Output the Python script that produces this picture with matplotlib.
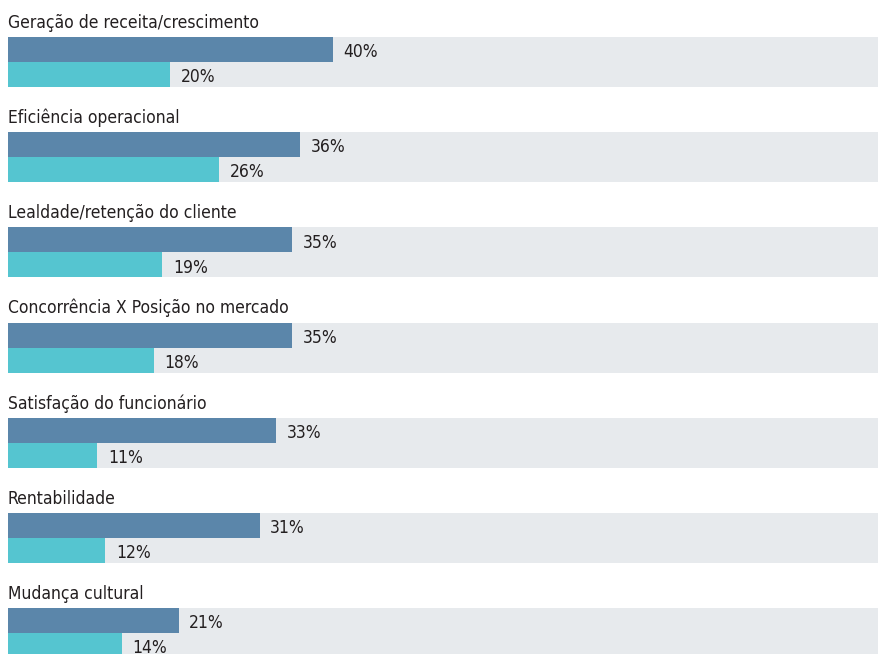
import matplotlib
matplotlib.use("Agg")
import matplotlib.pyplot as plt

categories = [
    "Geração de receita/crescimento",
    "Eficiência operacional",
    "Lealdade/retenção do cliente",
    "Concorrência X Posição no mercado",
    "Satisfação do funcionário",
    "Rentabilidade",
    "Mudança cultural",
]
serie_a = [40, 36, 35, 35, 33, 31, 21]
serie_b = [20, 26, 19, 18, 11, 12, 14]

color_a = "#5b86aa"
color_b = "#55c5d0"
color_bg = "#e7eaed"
color_txt = "#231f20"

plt.rcParams["font.family"] = ["DejaVu Sans"]
plt.rcParams["font.stretch"] = "condensed"

fig = plt.figure(figsize=(8.79, 6.54), dpi=100)
ax = fig.add_axes([8 / 879, 0, 871 / 879, 1])

xmax = 107.2
bar_h = 0.263
fs = 12.5
for i, (cat, a, b) in enumerate(zip(categories, serie_a, serie_b)):
    ya = i + bar_h / 2
    yb = i + bar_h * 1.5
    ax.barh(i + bar_h, xmax, height=bar_h * 2, left=0, color=color_bg, zorder=1)
    ax.barh(ya, a, height=bar_h, color=color_a, zorder=2)
    ax.barh(yb, b, height=bar_h, color=color_b, zorder=2)
    ax.text(0, i - 0.095, cat, fontsize=fs, color=color_txt, va="baseline", ha="left")
    for v, y in ((a, ya), (b, yb)):
        ax.annotate(f"{v}%", (v, y), xytext=(7.5, -2), textcoords="offset points",
                    fontsize=fs, color=color_txt, va="center", ha="left")

ax.set_xlim(0, xmax)
ax.set_ylim(654 / 95.17 - 37 / 95.17, -37 / 95.17)
ax.axis("off")

fig.savefig("out.png", dpi=100)
